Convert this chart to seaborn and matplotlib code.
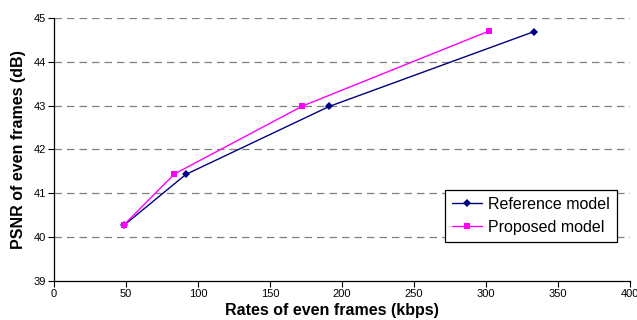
import pandas as pd
import matplotlib
matplotlib.use("Agg")
import matplotlib.pyplot as plt
import seaborn as sns

# Values
ref_rate = [48.5, 91.5, 191.0, 333.5]
ref_psnr = [40.27, 41.43, 42.98, 44.69]
prop_rate = [48.5, 83.5, 172.5, 302.0]
prop_psnr = [40.28, 41.44, 42.99, 44.70]
series_names = ["Reference model", "Proposed model"]

x_ticks = [0, 50, 100, 150, 200, 250, 300, 350, 400]
y_ticks = [39, 40, 41, 42, 43, 44, 45]


def build_data():
    # long-form table for seaborn
    ref = pd.DataFrame({"rate": ref_rate, "psnr": ref_psnr, "model": series_names[0]})
    prop = pd.DataFrame({"rate": prop_rate, "psnr": prop_psnr, "model": series_names[1]})
    return pd.concat([ref, prop], ignore_index=True)


data = build_data()

sns.set_style("white")
plt.rcParams['font.family'] = ['Liberation Sans', 'DejaVu Sans']
plt.rcParams['text.color'] = 'black'
plt.rcParams['axes.labelcolor'] = 'black'
plt.rcParams['xtick.color'] = 'black'
plt.rcParams['ytick.color'] = 'black'

fig = plt.figure(figsize=(6.37, 3.2), dpi=100)
ax = fig.add_axes([0.085, 0.122, 0.904, 0.822])

palette = {series_names[0]: "#000080", series_names[1]: "#FF00FF"}
markers = {series_names[0]: "D", series_names[1]: "s"}

sns.lineplot(data=data, x="rate", y="psnr", hue="model", style="model",
             palette=palette, markers=markers, dashes=False, sort=False,
             linewidth=1.0, markersize=4.5, markeredgewidth=0, ax=ax)

# grey dashed gridlines like the original
for y in y_ticks[1:]:
    ax.axhline(y, color="#808080", linestyle=(0, (6, 4)), linewidth=0.9, zorder=0)

ax.set_xlim(0, 400)
ax.set_ylim(39, 45)
ax.set_xticks(x_ticks)
ax.set_yticks(y_ticks)
ax.tick_params(axis="both", labelsize=8, direction="out", length=4, width=0.8,
               color="black", pad=2)
ax.tick_params(axis="x", bottom=True)
ax.tick_params(axis="y", left=True)

for side in ["top", "right"]:
    ax.spines[side].set_visible(False)
for side in ["left", "bottom"]:
    ax.spines[side].set_color("black")
    ax.spines[side].set_linewidth(0.9)

ax.set_xlabel("Rates of even frames (kbps)", fontsize=11.5, fontweight="bold", labelpad=0)
ax.xaxis.set_label_coords(0.483, -0.085)
ax.set_ylabel("PSNR of even frames (dB)", fontsize=11.5, fontweight="bold", labelpad=5)

leg = ax.legend(loc="lower right", bbox_to_anchor=(0.977, 0.148), fontsize=11.5,
                frameon=True, fancybox=False, framealpha=1, borderpad=0.45,
                handlelength=1.9, labelspacing=0.5, handletextpad=0.35,
                borderaxespad=0)
leg.get_frame().set_edgecolor("black")
leg.get_frame().set_linewidth(0.9)

plt.savefig("out.png", dpi=100)
